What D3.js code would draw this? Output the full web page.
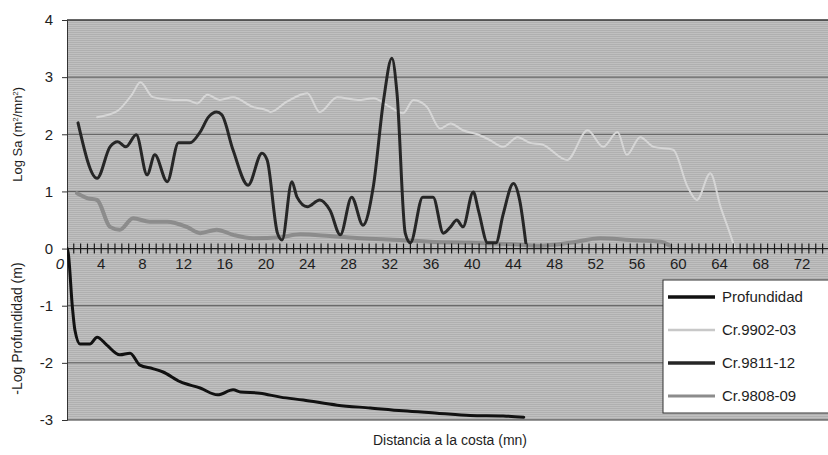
<!DOCTYPE html>
<html>
<head>
<meta charset="utf-8">
<script src="https://cdn.jsdelivr.net/npm/d3@7"></script>
<style>
  body { margin: 0; background: #fff; }
  text { font-family: 'Liberation Sans', Arial, sans-serif; fill: #1e1e1e; }
</style>
</head>
<body>
<div id="chart"></div>
<script>
// distance (mn) / value pairs
const profDist = [0.7, 0.8, 1.2, 1.45, 1.95, 2.9, 3.6, 4.55, 5.8, 6.8, 7.75, 9.0, 10, 11.65, 13.6, 15.3, 16.8, 17.5, 19.4, 21.4, 23.6, 26.9, 30.1, 33.3, 36.6, 39.8, 43, 45];
const profVal = [0, -0.08, -1.02, -1.43, -1.67, -1.67, -1.55, -1.69, -1.86, -1.83, -2.04, -2.1, -2.16, -2.33, -2.44, -2.56, -2.47, -2.51, -2.53, -2.6, -2.65, -2.74, -2.79, -2.84, -2.88, -2.92, -2.93, -2.95];

const cr9902Dist = [3.6, 5.5, 7.0, 7.8, 9.0, 11.0, 12.3, 13.3, 14.3, 15.5, 16.8, 18.7, 20.1, 20.4, 22.0, 24.0, 25.2, 26.9, 28.9, 30.4, 32.0, 33.3, 34.3, 35.6, 36.9, 37.9, 39.1, 40.5, 41.7, 43.0, 44.4, 45.6, 46.8, 49.2, 51.2, 52.7, 54.1, 55.0, 56.3, 57.6, 59.5, 60.9, 61.8, 63.1, 64.1, 65, 65.5];
const cr9902Val = [2.3, 2.4, 2.7, 2.91, 2.65, 2.6, 2.6, 2.54, 2.69, 2.6, 2.65, 2.48, 2.42, 2.39, 2.57, 2.72, 2.39, 2.65, 2.6, 2.63, 2.48, 2.37, 2.6, 2.48, 2.1, 2.19, 2.07, 2.0, 1.9, 1.78, 1.95, 1.85, 1.82, 1.55, 2.07, 1.78, 2.04, 1.64, 1.95, 1.78, 1.73, 1.08, 0.85, 1.32, 0.73, 0.27, 0];

const cr9811Dist = [1.75, 3.6, 4.85, 5.6, 6.4, 7.4, 8.45, 9.2, 10.4, 11.5, 12.6, 13.6, 14.4, 15.2, 15.7, 16.8, 18.25, 19.6, 20.1, 21.1, 21.55, 22.5, 23, 24, 25.2, 26.2, 27.2, 28.3, 29.4, 30.4, 31.4, 32.2, 32.7, 33.5, 34, 35.2, 36.2, 37.2, 37.9, 38.5, 39.1, 40.1, 40.6, 41.5, 42.3, 43, 44, 44.6, 45.2];
const cr9811Val = [2.2, 1.23, 1.78, 1.87, 1.78, 1.99, 1.29, 1.64, 1.17, 1.85, 1.85, 2.04, 2.3, 2.39, 2.34, 1.72, 1.11, 1.67, 1.55, 0.27, 0.15, 1.17, 0.9, 0.73, 0.85, 0.67, 0.24, 0.9, 0.41, 1.08, 2.6, 3.33, 2.72, 0.27, 0.1, 0.9, 0.9, 0.27, 0.38, 0.5, 0.38, 0.99, 0.67, 0.1, 0.1, 0.6, 1.14, 0.85, 0.1];

const cr9808Dist = [1.65, 2.7, 3.6, 4.85, 5.8, 7.1, 8.7, 10.4, 12.3, 13.6, 15.2, 16.8, 18.7, 21.4, 23.3, 26.2, 29.1, 33, 35.9, 39.8, 43.7, 46.6, 49.5, 52.4, 55.3, 58.3, 59.2];
const cr9808Val = [0.97, 0.88, 0.85, 0.38, 0.33, 0.53, 0.47, 0.47, 0.38, 0.27, 0.33, 0.24, 0.18, 0.2, 0.25, 0.22, 0.18, 0.15, 0.12, 0.1, 0.08, 0.05, 0.1, 0.18, 0.15, 0.12, 0.05];

const seriesNames = ['Profundidad', 'Cr.9902-03', 'Cr.9811-12', 'Cr.9808-09'];
const yTicks = [4, 3, 2, 1, 0, -1, -2, -3];
const xLabels = [0, 4, 8, 12, 16, 20, 24, 28, 32, 36, 40, 44, 48, 52, 56, 60, 64, 68, 72];

const width = 828;
const height = 455;
const plot = { left: 67, right: 832, top: 20, bottom: 420 };

const svg = d3.select('#chart').append('svg')
  .attr('width', width)
  .attr('height', height);

// scales: x(0) sits a little left of the plot frame, like the original
const x = d3.scaleLinear().domain([0, 72]).range([60, 802]);
const y = d3.scaleLinear().domain([-3, 4]).range([plot.bottom, plot.top]);

// halftone-ish grey background
const defs = svg.append('defs');
const pat = defs.append('pattern')
  .attr('id', 'screen')
  .attr('width', 2)
  .attr('height', 2)
  .attr('patternUnits', 'userSpaceOnUse');
pat.append('rect').attr('width', 2).attr('height', 2).attr('fill', '#c0c0c0');
pat.append('rect').attr('width', 2).attr('height', 1).attr('fill', '#b0b0b0');

defs.append('clipPath').attr('id', 'clip')
  .append('rect')
  .attr('x', plot.left)
  .attr('y', plot.top - 2)
  .attr('width', plot.right - plot.left)
  .attr('height', plot.bottom - plot.top + 4);

svg.append('rect')
  .attr('x', plot.left)
  .attr('y', plot.top)
  .attr('width', plot.right - plot.left)
  .attr('height', plot.bottom - plot.top)
  .attr('fill', 'url(#screen)');

// ****************** grid + y axis *************************** //
svg.append('g')
  .selectAll('line')
  .data(yTicks.filter(d => d !== 0))
  .enter().append('line')
  .attr('x1', plot.left)
  .attr('x2', plot.right)
  .attr('y1', d => y(d))
  .attr('y2', d => y(d))
  .attr('stroke', d => (d === 4 || d === -3 ? '#333' : '#555'))
  .attr('stroke-width', d => (d === 4 ? 1.6 : 1));

const yAxis = svg.append('g')
  .attr('transform', `translate(${plot.left},0)`)
  .call(d3.axisLeft(y).tickValues(yTicks).tickSize(5).tickPadding(9).tickFormat(d3.format('d')));
yAxis.select('.domain').attr('stroke', '#333');
yAxis.selectAll('.tick line').attr('stroke', '#333');
yAxis.selectAll('.tick text')
  .style('font-size', '15px')
  .style('font-family', "'Liberation Sans', Arial, sans-serif")
  .attr('fill', '#1e1e1e')
  .text(d => (d < 0 ? '-' + Math.abs(d) : d));

// ****************** series *************************** //
const line = d3.line()
  .x(d => x(d[0]))
  .y(d => y(d[1]))
  .curve(d3.curveMonotoneX);

const series = [
  { name: seriesNames[3], pts: d3.zip(cr9808Dist, cr9808Val), color: '#8c8c8c', w: 4 },
  { name: seriesNames[1], pts: d3.zip(cr9902Dist, cr9902Val), color: '#d6d6d6', w: 2 },
  { name: seriesNames[2], pts: d3.zip(cr9811Dist, cr9811Val), color: '#262626', w: 3 },
  { name: seriesNames[0], pts: d3.zip(profDist, profVal), color: '#111', w: 3 },
];

svg.append('g')
  .attr('clip-path', 'url(#clip)')
  .selectAll('path')
  .data(series)
  .enter().append('path')
  .attr('d', d => line(d.pts))
  .attr('fill', 'none')
  .attr('stroke', d => d.color)
  .attr('stroke-width', d => d.w)
  .attr('stroke-linejoin', 'round')
  .attr('stroke-linecap', 'round');

// ****************** x axis at zero *************************** //
const minorTicks = d3.range(0, 75, 2 / 3).filter(d => x(d) > plot.left + 1 && x(d) < width);
svg.append('g')
  .selectAll('line')
  .data(minorTicks)
  .enter().append('line')
  .attr('x1', d => x(d))
  .attr('x2', d => x(d))
  .attr('y1', y(0) - 5)
  .attr('y2', y(0) + 5)
  .attr('stroke', '#1a1a1a')
  .attr('stroke-width', 1.2);

svg.append('line')
  .attr('x1', plot.left)
  .attr('x2', plot.right)
  .attr('y1', y(0))
  .attr('y2', y(0))
  .attr('stroke', '#1a1a1a')
  .attr('stroke-width', 1.3);

svg.append('g')
  .selectAll('text')
  .data(xLabels)
  .enter().append('text')
  .attr('x', d => x(d))
  .attr('y', y(0) + 20)
  .attr('text-anchor', 'middle')
  .style('font-size', '15px')
  .style('font-style', d => (d === 0 ? 'italic' : 'normal'))
  .text(d => d);

// ****************** legend *************************** //
const legendStyle = {
  Profundidad: { color: '#111', w: 3.5 },
  'Cr.9902-03': { color: '#c8c8c8', w: 2.5 },
  'Cr.9811-12': { color: '#262626', w: 3.5 },
  'Cr.9808-09': { color: '#8c8c8c', w: 3 },
};

const legend = svg.append('g').attr('transform', 'translate(663,280)');
legend.append('rect')
  .attr('width', 170)
  .attr('height', 133)
  .attr('fill', '#fff')
  .attr('stroke', '#333')
  .attr('stroke-width', 1);

const item = legend.selectAll('g.item')
  .data(seriesNames)
  .enter().append('g')
  .attr('class', 'item')
  .attr('transform', (d, i) => `translate(0,${17 + i * 33})`);

item.append('line')
  .attr('x1', 5)
  .attr('x2', 52)
  .attr('stroke', d => legendStyle[d].color)
  .attr('stroke-width', d => legendStyle[d].w);

item.append('text')
  .attr('x', 59)
  .attr('dy', '0.35em')
  .style('font-size', '15px')
  .text(d => d);

// ****************** axis titles *************************** //
svg.append('text')
  .attr('transform', `translate(22,${y(2)}) rotate(-90)`)
  .attr('text-anchor', 'middle')
  .style('font-size', '13px')
  .html('Log Sa (m<tspan baseline-shift="super" font-size="8px">2</tspan>/mn<tspan baseline-shift="super" font-size="8px">2</tspan>)');

svg.append('text')
  .attr('transform', `translate(22,${y(-1.4)}) rotate(-90)`)
  .attr('text-anchor', 'middle')
  .style('font-size', '14px')
  .text('-Log Profundidad (m)');

svg.append('text')
  .attr('x', 450)
  .attr('y', 445)
  .attr('text-anchor', 'middle')
  .style('font-size', '14px')
  .text('Distancia a la costa (mn)');
</script>
</body>
</html>
